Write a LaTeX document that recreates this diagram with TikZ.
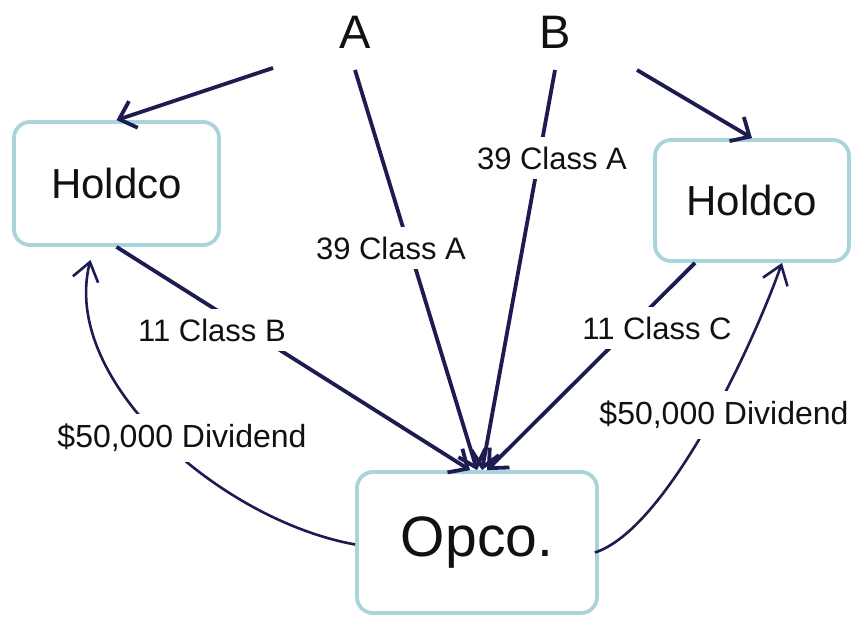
\documentclass[tikz,border=0pt]{standalone}
\usepackage{fontspec}
\setmainfont{Liberation Sans}
\usetikzlibrary{arrows.meta,calc}
\definecolor{navy}{HTML}{1C1C52}
\definecolor{boxline}{HTML}{A9D5DA}
\definecolor{ink}{HTML}{111111}
\tikzset{
  box/.style={draw=boxline, line width=3.8pt, rounded corners=16pt, fill=white, inner sep=0pt, text=ink},
  flow/.style={draw=navy, line width=3.8pt, -{Straight Barb[length=15pt,width=28pt]}},
  divi/.style={draw=navy, line width=2.6pt, -{Straight Barb[length=18pt,width=26pt]}},
  lbl/.style={fill=white, inner xsep=4pt, inner ysep=10pt, text=ink, font=\fontsize{31}{31}\selectfont},
  dlbl/.style={lbl, font=\fontsize{32}{32}\selectfont},
  party/.style={text=ink, inner sep=0pt, font=\fontsize{47}{47}\selectfont}
}
\begin{document}
\begin{tikzpicture}[x=1pt,y=-1pt]
\useasboundingbox (0,0) rectangle (852,618);
\fill[white] (0,0) rectangle (852,618);
% parties
\node[party] (A) at (355,32) {A};
\node[party] (B) at (555,32) {B};
% boxes
\node[box, minimum width=205pt, minimum height=123pt, font=\fontsize{42}{42}\selectfont] (hl) at (116.5,183.5) {Holdco};
\node[box, minimum width=194pt, minimum height=121pt, font=\fontsize{42}{42}\selectfont] (hr) at (752,200.5) {Holdco};
\node[box, minimum width=240pt, minimum height=141pt, font=\fontsize{57}{57}\selectfont] (op) at (477,542.5) {\raisebox{-4pt}{Opco.}};
% free ends near A and B
\coordinate (a1) at (273,68);
\coordinate (a2) at (355,70);
\coordinate (b1) at (555,70);
\coordinate (b2) at (637,70);
% share arrows
\draw[flow] (a1) -- (hl.north);
\draw[flow] (b2) -- (hr.north);
\draw[flow] (hl.south) -- ([xshift=-7pt]op.north);
\draw[flow] (a2) -- ([xshift=0pt]op.north);
\draw[flow] (b1) -- ([xshift=5pt]op.north);
\draw[flow] ([xshift=-57pt]hr.south) -- ([xshift=10pt]op.north);
% dividend curves
\draw[divi] ([shift={(0,2)}]op.west) .. controls (220,520) and (60,380) .. ([shift={(-26,13)}]hl.south);
\draw[divi] ([shift={(-4,10)}]op.east) .. controls (665,530) and (750,353) .. ([shift={(30,0)}]hr.south);
% labels
\node[lbl] (lA) at (391,248) {39 Class A};
\node[lbl] (lB) at (552,158) {39 Class A};
\node[lbl] (lcB) at (212,330) {11 Class B};
\node[lbl] (lcC) at (657,328) {11 Class C};
\node[dlbl] (ldl) at (182,438) {\$50,000 Dividend};
\node[dlbl] (ldr) at (724,415) {\$50,000 Dividend};
\end{tikzpicture}
\end{document}
